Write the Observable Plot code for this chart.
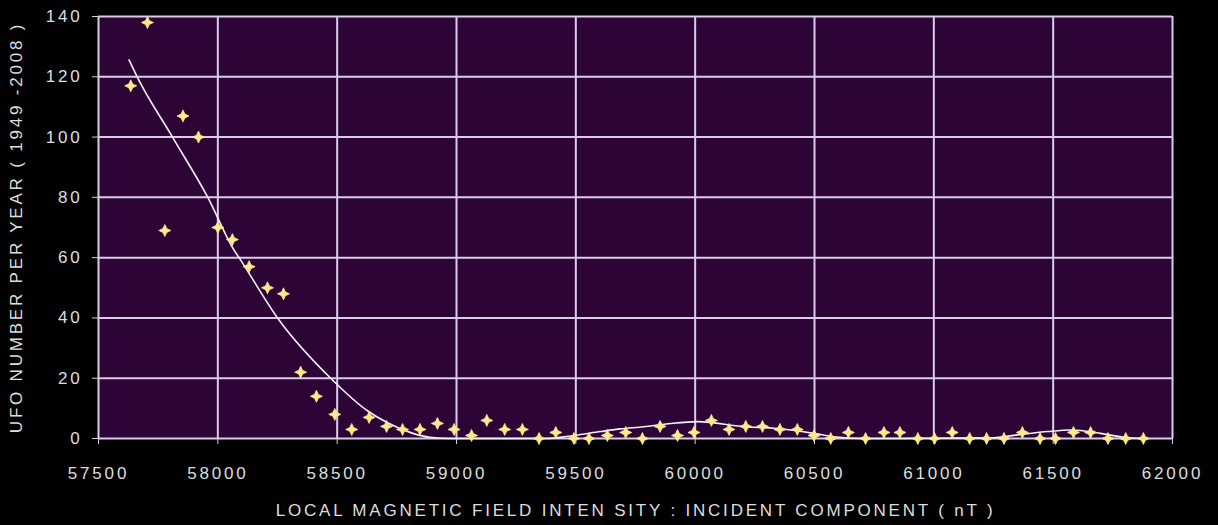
<!DOCTYPE html>
<html>
<head>
<meta charset="utf-8">
<script src="https://cdn.jsdelivr.net/npm/d3@7"></script>
<script src="https://cdn.jsdelivr.net/npm/@observablehq/plot@0.6"></script>
<style>
  html, body { margin: 0; padding: 0; background: #000; }
  #chart { width: 1218px; height: 525px; }
</style>
</head>
<body>
<div id="chart"></div>
<script>
// Observed points: magnetic field intensity (nT) and UFO count per year
const fieldNT = [57635, 57705, 57778, 57854, 57919, 58000, 58061, 58131, 58208, 58275,
  58347, 58413, 58490, 58561, 58634, 58707, 58774, 58847, 58920, 58990,
  59063, 59127, 59202, 59276, 59346, 59416, 59492, 59555, 59632, 59709,
  59779, 59853, 59926, 59995, 60068, 60142, 60212, 60282, 60355, 60428,
  60498, 60568, 60642, 60714, 60791, 60858, 60933, 61003, 61077, 61150,
  61221, 61294, 61371, 61445, 61510, 61585, 61657, 61730, 61804, 61878];
const ufoCount = [117, 138, 69, 107, 100, 70, 66, 57, 50, 48,
  22, 14, 8, 3, 7, 4, 3, 3, 5, 3,
  1, 6, 3, 3, 0, 2, 0, 0, 1, 2,
  0, 4, 1, 2, 6, 3, 4, 4, 3, 3,
  1, 0, 2, 0, 2, 2, 0, 0, 2, 0,
  0, 0, 2, 0, 0, 2, 2, 0, 0, 0];

// Trend line (polynomial fit)
const trendX = [57628, 57662, 57810, 57958, 58068, 58089, 58250, 58473, 58627, 58711,
  58817, 58888, 58976, 59186, 59374, 59491, 59604, 59688, 59784, 59897,
  60011, 60204, 60330, 60497, 60581, 60694, 60861, 61238, 61351, 61477,
  61574, 61699, 61795, 61878];
const trendY = [125.6, 120, 100, 80, 62.5, 60, 40, 20, 9.2, 5.2,
  1.7, 0.4, 0, 0, 0, 1.0, 2.3, 3.2, 3.9, 5.0,
  5.6, 3.9, 3.4, 1.7, 0.6, 0, 0, 0.2, 1.2, 2.3,
  2.8, 1.7, 0.4, 0];

const xTicks = [57500, 58000, 58500, 59000, 59500, 60000, 60500, 61000, 61500, 62000];
const yTicks = [0, 20, 40, 60, 80, 100, 120, 140];

const xTitle = "LOCAL MAGNETIC FIELD INTEN SITY : INCIDENT COMPONENT ( nT )";
const yTitle = "UFO NUMBER PER YEAR ( 1949 -2008 )";

const points = fieldNT.map((x, i) => ({x, y: ufoCount[i]}));
const trend = trendX.map((x, i) => ({x, y: trendY[i]}));

const star4 = {
  draw(context, size) {
    const R = Math.sqrt(size / Math.PI);
    const r = R * 0.45;
    for (let k = 0; k < 8; ++k) {
      const a = k * Math.PI / 4 - Math.PI / 2;
      const rad = k % 2 === 0 ? R : r;
      const px = rad * Math.cos(a), py = rad * Math.sin(a);
      if (k === 0) context.moveTo(px, py); else context.lineTo(px, py);
    }
    context.closePath();
  }
};

const gridColor = "#dccbe6";
const textColor = "#dedede";

const chart = Plot.plot({
  width: 1218,
  height: 525,
  marginLeft: 98,
  marginRight: 46,
  marginTop: 16,
  marginBottom: 87,
  style: {
    background: "#000",
    color: textColor,
    fontFamily: "'Liberation Sans', Arial, sans-serif",
    fontSize: "17px",
    letterSpacing: "2.8px"
  },
  x: {domain: [57500, 62000]},
  y: {domain: [0, 140]},
  marks: [
    Plot.frame({fill: "#2c0536", stroke: null}),
    Plot.gridX(xTicks, {stroke: gridColor, strokeOpacity: 1, strokeWidth: 2}),
    Plot.gridY(yTicks, {stroke: gridColor, strokeOpacity: 1, strokeWidth: 2}),
    Plot.axisX(xTicks, {
      tickSize: 6, tickPadding: 22, tickFormat: d => String(d),
      stroke: gridColor, fill: textColor,
      label: xTitle, labelAnchor: "center", labelOffset: 77, labelArrow: "none"
    }),
    Plot.axisY(yTicks, {
      tickSize: 6, tickPadding: 10, tickFormat: d => String(d),
      stroke: gridColor, fill: textColor,
      label: yTitle, labelAnchor: "center", labelOffset: 89, labelArrow: "none"
    }),
    Plot.line(trend, {x: "x", y: "y", curve: "monotone-x", stroke: "#f6f0fa", strokeWidth: 1.6}),
    Plot.dot(points, {x: "x", y: "y", symbol: star4, r: 6, fill: "#ffe88e", stroke: "#ffe88e", strokeWidth: 0.8})
  ]
});

document.getElementById("chart").appendChild(chart);
</script>
</body>
</html>
